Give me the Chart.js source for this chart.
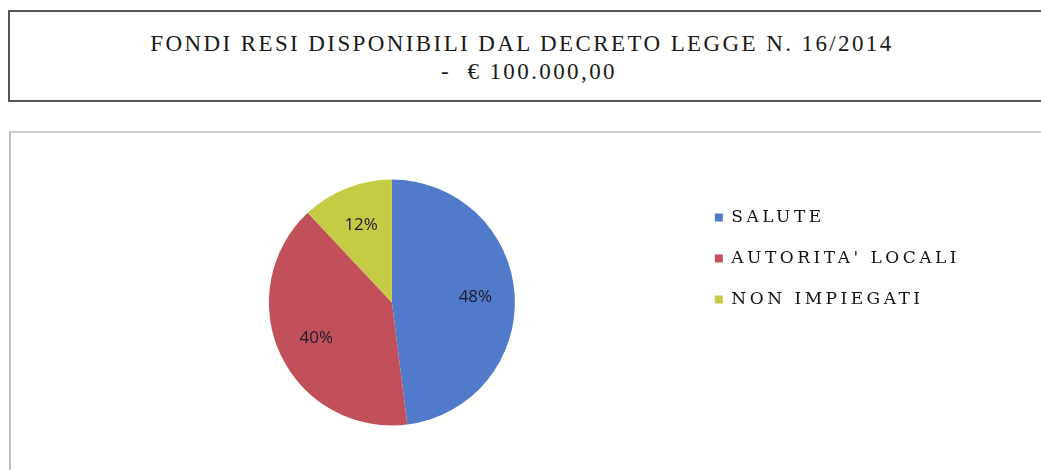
<!DOCTYPE html>
<html>
<head>
<meta charset="utf-8">
<script src="https://cdn.jsdelivr.net/npm/chart.js@4/dist/chart.umd.min.js"></script>
<style>
  html, body { margin: 0; padding: 0; background: #fff; width: 1041px; height: 470px; overflow: hidden; }
  #titleBox {
    position: absolute; left: 8px; top: 10px; width: 1040px; height: 92px;
    border: 2px solid #555; border-right: none;
    font-family: "Liberation Serif", serif; font-size: 23px; letter-spacing: 2.4px;
    color: #1a1a1a; text-align: center; line-height: 28px; padding-top: 18px; box-sizing: border-box;
  }
  #titleBox .l1 { margin-left: -14px; }
  #chartBox {
    position: absolute; left: 9px; top: 131px; width: 1032px; height: 339px;
    border-left: 2px solid #bbb; border-top: 2px solid #ccc; box-sizing: border-box;
  }
  #c { position: absolute; left: 0; top: 0; }
</style>
</head>
<body>
<div id="titleBox"><div class="l1">FONDI RESI DISPONIBILI DAL DECRETO LEGGE N. 16/2014</div><div>-&nbsp; € 100.000,00</div></div>
<div id="chartBox"><canvas id="c" width="1030" height="337"></canvas></div>
<script>
const categories = ["SALUTE", "AUTORITA' LOCALI", "NON IMPIEGATI"];
const values = [48, 40, 12];
const sliceColors = ["#527ACB", "#C2505A", "#C5CB45"];

const spacingPlugin = {
  id: 'legendSpacing',
  beforeUpdate(chart) { chart.ctx.letterSpacing = '3.5px'; },
  beforeDraw(chart) { chart.ctx.letterSpacing = '3.5px'; },
  beforeDatasetsDraw(chart) { chart.ctx.letterSpacing = '0px'; }
};

const labelPlugin = {
  id: 'sliceLabels',
  afterDatasetsDraw(chart) {
    const ctx = chart.ctx;
    const meta = chart.getDatasetMeta(0);
    const total = values.reduce((a, b) => a + b, 0);
    ctx.save();
    ctx.letterSpacing = '0px';
    ctx.font = '17px "Open Sans", "Liberation Sans", sans-serif';
    ctx.fillStyle = '#1b1b2b';
    ctx.textAlign = 'center';
    ctx.textBaseline = 'middle';
    meta.data.forEach((arc, i) => {
      const p = arc.getProps(['x', 'y', 'startAngle', 'endAngle', 'outerRadius'], true);
      const mid = (p.startAngle + p.endAngle) / 2;
      const rr = p.outerRadius * 0.68;
      const x = p.x + Math.cos(mid) * rr;
      const y = p.y + Math.sin(mid) * rr;
      ctx.fillText(Math.round(values[i] / total * 100) + '%', x, y);
    });
    ctx.restore();
  }
};

new Chart(document.getElementById('c'), {
  type: 'pie',
  data: {
    labels: categories,
    datasets: [{
      data: values,
      backgroundColor: sliceColors,
      borderWidth: 0,
      radius: 123
    }]
  },
  options: {
    responsive: false,
    animation: false,
    layout: { padding: { left: 82, right: 71, top: 52, bottom: 50 } },
    plugins: {
      tooltip: { enabled: false },
      legend: {
        position: 'right',
        align: 'start',
        labels: {
          boxWidth: 8,
          boxHeight: 8,
          padding: 24,
          color: '#111',
          font: { family: '"DejaVu Serif", serif', size: 17 }
        }
      }
    }
  },
  plugins: [spacingPlugin, labelPlugin]
});
</script>
</body>
</html>
